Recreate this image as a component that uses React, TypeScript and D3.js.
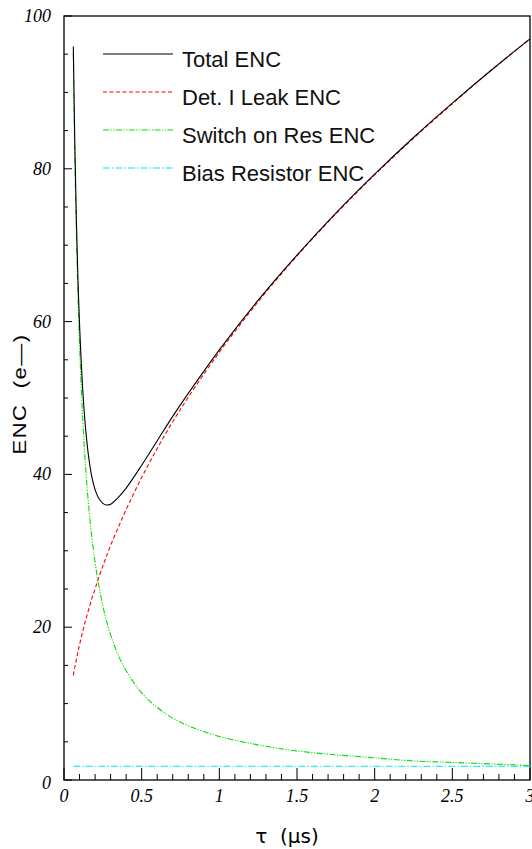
import React, { useEffect, useRef } from "react";
import * as d3 from "d3";

// values (tau in microseconds, ENC in electrons)
const tau = [0.06, 0.07, 0.08, 0.09, 0.1, 0.12, 0.14, 0.16, 0.18, 0.2, 0.22, 0.25, 0.27, 0.3, 0.35, 0.4, 0.5, 0.6, 0.7, 0.8, 1.0, 1.25, 1.5, 1.75, 2.0, 2.25, 2.5, 2.75, 3.0];
const totalEnc = [96.0, 82.8, 73.0, 65.5, 59.7, 51.3, 45.8, 42.1, 39.6, 38.0, 37.0, 36.2, 36.0, 36.1, 37.0, 38.2, 41.2, 44.4, 47.6, 50.6, 56.3, 62.8, 68.7, 74.2, 79.3, 84.1, 88.6, 92.9, 97.0];
const leakEnc = [13.7, 14.8, 15.8, 16.8, 17.7, 19.4, 21.0, 22.4, 23.8, 25.0, 26.3, 28.0, 29.1, 30.7, 33.1, 35.4, 39.6, 43.4, 46.9, 50.1, 56.0, 62.6, 68.6, 74.1, 79.2, 84.0, 88.5, 92.9, 97.0];
const switchEnc = [95.0, 81.4, 71.3, 63.3, 57.0, 47.5, 40.7, 35.6, 31.7, 28.5, 25.9, 22.8, 21.1, 19.0, 16.3, 14.3, 11.4, 9.5, 8.1, 7.1, 5.7, 4.6, 3.8, 3.3, 2.9, 2.5, 2.3, 2.1, 1.9];
const biasTau = [0.06, 3.0];
const biasEnc = [1.8, 1.8];

const legendLabels = ["Total ENC", "Det. I Leak ENC", "Switch on Res ENC", "Bias Resistor ENC"];
const xTicks = [0, 0.5, 1, 1.5, 2, 2.5, 3];
const yTicks = [0, 20, 40, 60, 80, 100];

const App = () => {
  const chartRef = useRef(null);

  useEffect(() => {
    const width = 532;
    const height = 849;
    const margin = { top: 16, right: 2, bottom: 69, left: 64 };

    d3.select(chartRef.current).selectAll("*").remove();

    const svg = d3
      .select(chartRef.current)
      .append("svg")
      .attr("width", width)
      .attr("height", height)
      .style("position", "absolute")
      .style("left", "0px")
      .style("top", "0px")
      .style("background", "#fff");

    const xScale = d3.scaleLinear().domain([0, 3]).range([margin.left, width - margin.right]);
    const yScale = d3.scaleLinear().domain([0, 100]).range([height - margin.bottom, margin.top]);

    // frame
    svg
      .append("rect")
      .attr("x", margin.left)
      .attr("y", margin.top)
      .attr("width", width - margin.left - margin.right)
      .attr("height", height - margin.top - margin.bottom)
      .attr("fill", "none")
      .attr("stroke", "#000")
      .attr("stroke-width", 1.3);

    // ticks (drawn inward, ROOT style)
    const y0 = yScale(0);
    const x0 = xScale(0);
    const xMinor = d3.range(0, 31).map((i) => i / 10);
    svg
      .append("g")
      .selectAll("line")
      .data(xMinor)
      .join("line")
      .attr("x1", (d) => xScale(d))
      .attr("x2", (d) => xScale(d))
      .attr("y1", y0)
      .attr("y2", (d, i) => y0 - (i % 5 === 0 ? 12 : 6))
      .attr("stroke", "#000")
      .attr("stroke-width", 1);

    const yMinor = d3.range(0, 21).map((i) => i * 5);
    svg
      .append("g")
      .selectAll("line")
      .data(yMinor)
      .join("line")
      .attr("x1", x0)
      .attr("x2", (d, i) => x0 + (i % 4 === 0 ? 8 : 4))
      .attr("y1", (d) => yScale(d))
      .attr("y2", (d) => yScale(d))
      .attr("stroke", "#000")
      .attr("stroke-width", 1);

    // tick labels
    svg
      .append("g")
      .selectAll("text")
      .data(xTicks)
      .join("text")
      .attr("x", (d) => xScale(d))
      .attr("y", y0 + 22)
      .attr("text-anchor", "middle")
      .attr("font-family", "Liberation Serif")
      .attr("font-style", "italic")
      .attr("font-size", 18)
      .text((d) => String(d));

    svg
      .append("g")
      .selectAll("text")
      .data(yTicks)
      .join("text")
      .attr("x", x0 - 13)
      .attr("y", (d) => yScale(d) + (d === 0 ? 9 : 6))
      .attr("text-anchor", "end")
      .attr("font-family", "Liberation Serif")
      .attr("font-style", "italic")
      .attr("font-size", 18)
      .text((d) => String(d));

    // axis titles
    svg
      .append("text")
      .attr("x", 287)
      .attr("y", 843)
      .attr("text-anchor", "middle")
      .attr("font-family", "DejaVu Sans")
      .attr("font-size", 20)
      .attr("xml:space", "preserve")
      .text("τ  (μs)");

    svg
      .append("text")
      .attr("transform", "translate(26,394) rotate(-90) scale(1,0.82)")
      .attr("text-anchor", "middle")
      .attr("font-family", "Liberation Sans")
      .attr("font-size", 22)
      .attr("letter-spacing", 1.5)
      .attr("xml:space", "preserve")
      .text("ENC  (e\u2014)");

    // curves
    const makeLine = (xs, ys) =>
      d3
        .line()
        .x((d, i) => xScale(xs[i]))
        .y((d) => yScale(d))
        .curve(d3.curveCatmullRom.alpha(0.5))(ys);

    const series = [
      { xs: biasTau, ys: biasEnc, color: "#00e8e8", dash: "7,2,1.5,2" },
      { xs: tau, ys: switchEnc, color: "#00e000", dash: "6,1.5,1.2,1.5,1.2,1.5" },
      { xs: tau, ys: leakEnc, color: "#ff0000", dash: "4,2.5" },
      { xs: tau, ys: totalEnc, color: "#000000", dash: null },
    ];

    series.forEach((s) => {
      svg
        .append("path")
        .attr("d", makeLine(s.xs, s.ys))
        .attr("fill", "none")
        .attr("stroke", s.color)
        .attr("stroke-width", 1.1)
        .attr("stroke-dasharray", s.dash);
    });

    // legend
    const legendStyles = [
      { color: "#000000", dash: null },
      { color: "#ff0000", dash: "4,2.5" },
      { color: "#00e000", dash: "6,1.5,1.2,1.5,1.2,1.5" },
      { color: "#00e8e8", dash: "7,2,1.5,2" },
    ];
    const legend = svg.append("g").attr("transform", "translate(103,54)");
    legendLabels.forEach((label, i) => {
      legend
        .append("line")
        .attr("x1", 0)
        .attr("x2", 70)
        .attr("y1", i * 38)
        .attr("y2", i * 38)
        .attr("stroke", legendStyles[i].color)
        .attr("stroke-width", 1.2)
        .attr("stroke-dasharray", legendStyles[i].dash);
      legend
        .append("text")
        .attr("x", 79)
        .attr("y", i * 38 + 13)
        .attr("font-family", "Liberation Sans")
        .attr("font-size", 22)
        .attr("fill", "#111")
        .text(label);
    });
  }, []);

  return <div ref={chartRef}></div>;
};

export default App;
